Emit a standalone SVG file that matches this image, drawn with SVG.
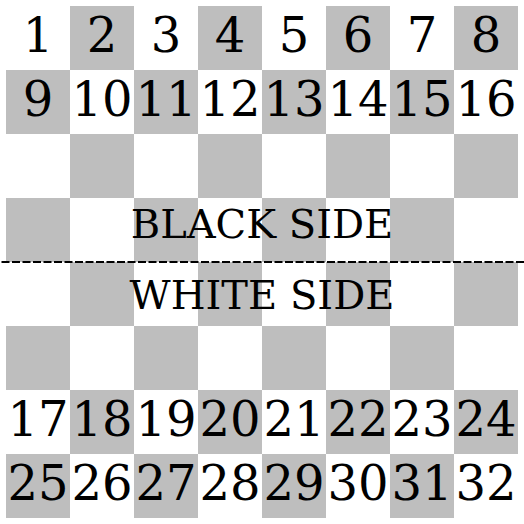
<svg xmlns="http://www.w3.org/2000/svg" width="524" height="524" viewBox="0 0 524 524">
<style>
.d{fill:#bebebe}
.n{font-family:"DejaVu Serif",serif;font-size:48px;text-anchor:middle;fill:#000}
.s{font-family:"DejaVu Serif",serif;font-size:40px;text-anchor:middle;fill:#000}
</style>
<rect width="524" height="524" fill="#fff"/>
<g id="board">
<rect class="d" x="70" y="6" width="64" height="64"/><rect class="d" x="198" y="6" width="64" height="64"/><rect class="d" x="326" y="6" width="64" height="64"/><rect class="d" x="454" y="6" width="64" height="64"/>
<rect class="d" x="6" y="70" width="64" height="64"/><rect class="d" x="134" y="70" width="64" height="64"/><rect class="d" x="262" y="70" width="64" height="64"/><rect class="d" x="390" y="70" width="64" height="64"/>
<rect class="d" x="70" y="134" width="64" height="64"/><rect class="d" x="198" y="134" width="64" height="64"/><rect class="d" x="326" y="134" width="64" height="64"/><rect class="d" x="454" y="134" width="64" height="64"/>
<rect class="d" x="6" y="198" width="64" height="64"/><rect class="d" x="134" y="198" width="64" height="64"/><rect class="d" x="262" y="198" width="64" height="64"/><rect class="d" x="390" y="198" width="64" height="64"/>
<rect class="d" x="70" y="262" width="64" height="64"/><rect class="d" x="198" y="262" width="64" height="64"/><rect class="d" x="326" y="262" width="64" height="64"/><rect class="d" x="454" y="262" width="64" height="64"/>
<rect class="d" x="6" y="326" width="64" height="64"/><rect class="d" x="134" y="326" width="64" height="64"/><rect class="d" x="262" y="326" width="64" height="64"/><rect class="d" x="390" y="326" width="64" height="64"/>
<rect class="d" x="70" y="390" width="64" height="64"/><rect class="d" x="198" y="390" width="64" height="64"/><rect class="d" x="326" y="390" width="64" height="64"/><rect class="d" x="454" y="390" width="64" height="64"/>
<rect class="d" x="6" y="454" width="64" height="64"/><rect class="d" x="134" y="454" width="64" height="64"/><rect class="d" x="262" y="454" width="64" height="64"/><rect class="d" x="390" y="454" width="64" height="64"/>
</g>
<g id="numbers">
<text class="n" x="38" y="52">1</text><text class="n" x="102" y="52">2</text><text class="n" x="166" y="52">3</text><text class="n" x="230" y="52">4</text><text class="n" x="294" y="52">5</text><text class="n" x="358" y="52">6</text><text class="n" x="422" y="52">7</text><text class="n" x="486" y="52">8</text>
<text class="n" x="38" y="116">9</text><text class="n" x="102" y="116">10</text><text class="n" x="166" y="116">11</text><text class="n" x="230" y="116">12</text><text class="n" x="294" y="116">13</text><text class="n" x="358" y="116">14</text><text class="n" x="422" y="116">15</text><text class="n" x="486" y="116">16</text>
<text class="n" x="38" y="436">17</text><text class="n" x="102" y="436">18</text><text class="n" x="166" y="436">19</text><text class="n" x="230" y="436">20</text><text class="n" x="294" y="436">21</text><text class="n" x="358" y="436">22</text><text class="n" x="422" y="436">23</text><text class="n" x="486" y="436">24</text>
<text class="n" x="38" y="500">25</text><text class="n" x="102" y="500">26</text><text class="n" x="166" y="500">27</text><text class="n" x="230" y="500">28</text><text class="n" x="294" y="500">29</text><text class="n" x="358" y="500">30</text><text class="n" x="422" y="500">31</text><text class="n" x="486" y="500">32</text>
</g>
<g id="sides">
<text class="s" x="262" y="238">BLACK SIDE</text>
<text class="s" x="262" y="309">WHITE SIDE</text>
</g>
<g id="connectors">
<line x1="0" y1="262" x2="524" y2="262" stroke="#000" stroke-width="2" stroke-dasharray="8,2.5" stroke-dashoffset="-1.5"/>
</g>
</svg>
